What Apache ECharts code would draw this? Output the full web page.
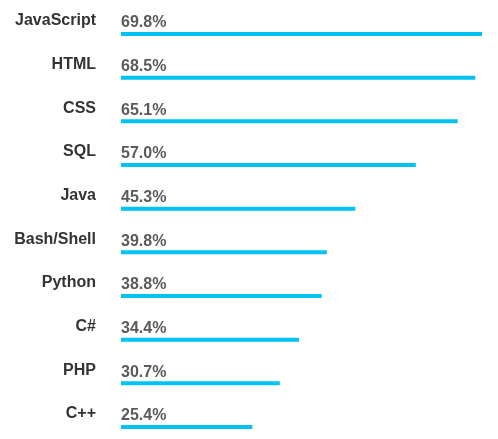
<!DOCTYPE html>
<html>
<head>
<meta charset="utf-8">
<script src="https://cdn.jsdelivr.net/npm/echarts@6/dist/echarts.min.js"></script>
<style>
html, body { margin: 0; padding: 0; background: #fff; }
#chart { width: 498px; height: 439px; }
</style>
</head>
<body>
<div id="chart"></div>
<script>
var languages = ['JavaScript', 'HTML', 'CSS', 'SQL', 'Java', 'Bash/Shell', 'Python', 'C#', 'PHP', 'C++'];
var shares = [69.8, 68.5, 65.1, 57.0, 45.3, 39.8, 38.8, 34.4, 30.7, 25.4];

var chart = echarts.init(document.getElementById('chart'));
chart.setOption({
	animation: false,
	grid: {
		left: 121,
		right: 16,
		top: 34,
		bottom: 12,
		outerBoundsMode: 'none'
	},
	xAxis: {
		type: 'value',
		min: 0,
		max: 69.8,
		show: false
	},
	yAxis: {
		type: 'category',
		inverse: true,
		boundaryGap: false,
		data: languages,
		axisLine: { show: false },
		axisTick: { show: false },
		axisLabel: {
			interval: 0,
			showMinLabel: true,
			showMaxLabel: true,
			margin: 25,
			color: '#333',
			fontFamily: 'Liberation Sans',
			fontWeight: 'bold',
			fontSize: 16,
			lineHeight: 26,
			verticalAlign: 'middle',
			// push the name onto the line above the bar
			formatter: function (v) { return v + '\n '; }
		}
	},
	series: [
		{
			type: 'bar',
			data: shares,
			barWidth: 4,
			itemStyle: { color: '#00c3f3' },
			label: {
				show: true,
				position: [0, -9],
				verticalAlign: 'middle',
				formatter: function (p) { return p.value.toFixed(1) + '%'; },
				color: '#5a5a5a',
				fontFamily: 'Liberation Sans',
				fontWeight: 'bold',
				fontSize: 16
			}
		}
	]
});
</script>
</body>
</html>
